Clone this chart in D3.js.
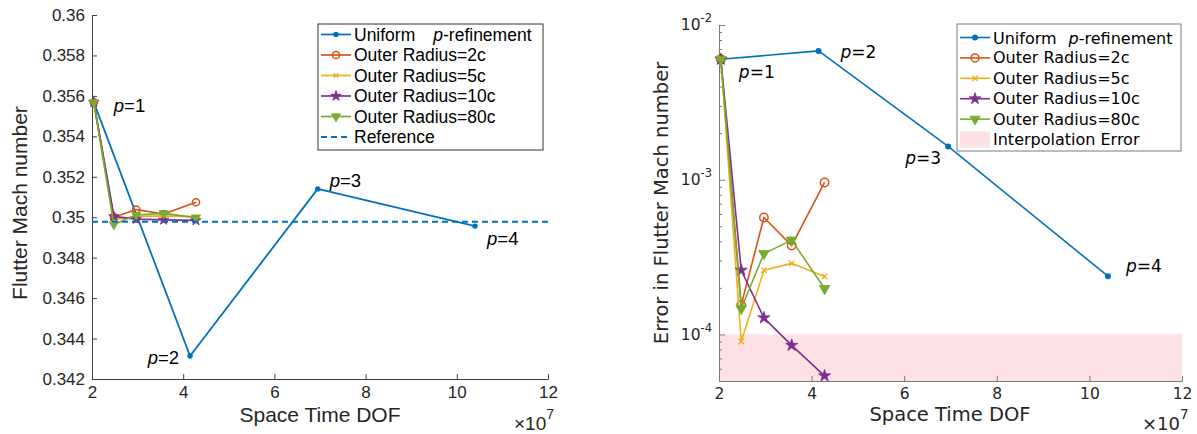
<!DOCTYPE html>
<html>
<head>
<meta charset="utf-8">
<script src="https://cdn.jsdelivr.net/npm/d3@7"></script>
<style>
  html, body { margin: 0; padding: 0; background: #ffffff; }
  svg { display: block; }
</style>
</head>
<body>
<svg id="fig" width="1197" height="434"></svg>
<script>
// ---------------- data ----------------
// Space-time degrees of freedom (x 10^7)
const dofUniform = [2.04, 4.15, 6.95, 10.4];
const dofRadius  = [2.04, 2.48, 2.97, 3.57, 4.28];

// Flutter Mach number
const machUniform = [0.35568, 0.34314, 0.35140, 0.34956];
const machR2  = [0.35568, 0.35000, 0.35038, 0.35016, 0.35074];
const machR5  = [0.35568, 0.34988, 0.35004, 0.35007, 0.35002];
const machR10 = [0.35568, 0.35004, 0.34991, 0.34987, 0.34984];
const machR80 = [0.35568, 0.34964, 0.35011, 0.35019, 0.34998];
const machReference = 0.34978;

// Error in flutter Mach number
const errUniform = [6.0e-3, 6.8e-3, 1.64e-3, 2.38e-4];
const errR2  = [6.0e-3, 1.55e-4, 5.7e-4, 3.75e-4, 9.6e-4];
const errR5  = [6.0e-3, 9.0e-5, 2.6e-4, 2.88e-4, 2.37e-4];
const errR10 = [6.0e-3, 2.6e-4, 1.28e-4, 8.5e-5, 5.4e-5];
const errR80 = [6.0e-3, 1.47e-4, 3.33e-4, 4.07e-4, 1.98e-4];
const interpolationBand = [5e-5, 1e-4];

// labels and ticks
const radiusLabels = ["Outer Radius=2c", "Outer Radius=5c", "Outer Radius=10c", "Outer Radius=80c"];
const orderLabels = ["1", "2", "3", "4"];
const dofTicks = [2, 4, 6, 8, 10, 12];
const machTicks = [0.342, 0.344, 0.346, 0.348, 0.35, 0.352, 0.354, 0.356, 0.358, 0.36];
const machTickLabels = ["0.342", "0.344", "0.346", "0.348", "0.35", "0.352", "0.354", "0.356", "0.358", "0.36"];
const errTicks = [1e-4, 1e-3, 1e-2];
const errTickExponents = ["-4", "-3", "-2"];

// ---------------- styling ----------------
const colors = ["#0072BD", "#D95319", "#EDB120", "#7E2F8E", "#77AC30"];
const markers = ["dot", "circle", "x", "star", "tri"];
const bandColor = "#fde1e4";

const svg = d3.select("#fig");

function drawMarker(g, type, color, x, y, k) {
  k = k || 1;
  if (type === "dot") {
    g.append("circle").attr("cx", x).attr("cy", y).attr("r", 3 * k).attr("fill", color);
  } else if (type === "circle") {
    g.append("circle").attr("cx", x).attr("cy", y).attr("r", 4 * k)
      .attr("fill", "none").attr("stroke", color).attr("stroke-width", 1.5);
  } else if (type === "x") {
    const s = 2.6 * k;
    g.append("path")
      .attr("d", `M${x - s},${y - s}L${x + s},${y + s}M${x - s},${y + s}L${x + s},${y - s}`)
      .attr("stroke", color).attr("stroke-width", 1.4).attr("fill", "none");
  } else if (type === "star") {
    g.append("path").attr("d", d3.symbol(d3.symbolStar, 42 * k * k)())
      .attr("transform", `translate(${x},${y})`)
      .attr("fill", color).attr("stroke", color).attr("stroke-width", 0.8);
  } else if (type === "tri") {
    g.append("path").attr("d", d3.symbol(d3.symbolTriangle, 45 * k * k)())
      .attr("transform", `translate(${x},${y}) rotate(180)`)
      .attr("fill", color).attr("stroke", color).attr("stroke-width", 0.8);
  }
}

function drawSeries(g, xs, ys, sx, sy, color, marker, k, w) {
  const pts = xs.map((d, i) => [sx(d), sy(ys[i])]);
  g.append("path").attr("d", d3.line()(pts))
    .attr("fill", "none").attr("stroke", color).attr("stroke-width", w || 1.6)
    .attr("stroke-linejoin", "round");
  pts.forEach(p => drawMarker(g, marker, color, p[0], p[1], k));
}

function pLabel(g, x, y, num, font, size, anchor) {
  const t = g.append("text").attr("x", x).attr("y", y)
    .attr("font-family", font).attr("font-size", size).attr("fill", "#000")
    .attr("text-anchor", anchor || "start").attr("dominant-baseline", "central");
  t.append("tspan").attr("font-style", "italic").text("p");
  t.append("tspan").text("=" + num);
}

function multiplier(g, x, y, font, size) {
  const t = g.append("text").attr("x", x).attr("y", y)
    .attr("font-family", font).attr("font-size", size).attr("fill", "#262626");
  t.append("tspan").text("\u00d710");
  t.append("tspan").attr("dy", -11).attr("font-size", size * 0.75).text("7");
}

// ================= left panel: flutter Mach number =================
(function () {
  const font = "Liberation Sans, Arial, sans-serif";
  const x = d3.scaleLinear().domain([2, 12]).range([92, 548]);
  const y = d3.scaleLinear().domain([0.342, 0.36]).range([379, 15]);
  const g = svg.append("g");

  // axes (ticks pointing inward)
  const ax = g.append("g").attr("transform", "translate(0,379)")
    .call(d3.axisBottom(x).tickValues(dofTicks).tickSizeInner(-5).tickSizeOuter(0).tickPadding(7)
      .tickFormat(d3.format("d")));
  const ay = g.append("g").attr("transform", "translate(92,0)")
    .call(d3.axisLeft(y).tickValues(machTicks).tickSizeInner(-5).tickSizeOuter(0).tickPadding(7)
      .tickFormat((d, i) => machTickLabels[i]));
  [ax, ay].forEach(a => {
    a.select(".domain").attr("stroke", "#404040").attr("stroke-width", 1);
    a.selectAll(".tick line").attr("stroke", "#404040");
    a.selectAll(".tick text").attr("font-family", font).attr("font-size", 17).attr("fill", "#262626");
  });

  g.append("text").attr("transform", "translate(19,203) rotate(-90)")
    .attr("text-anchor", "middle").attr("dominant-baseline", "central")
    .attr("font-family", font).attr("font-size", 21).attr("fill", "#262626")
    .text("Flutter Mach number");
  g.append("text").attr("x", 320).attr("y", 414)
    .attr("text-anchor", "middle").attr("dominant-baseline", "central")
    .attr("font-family", font).attr("font-size", 21).attr("fill", "#262626")
    .text("Space Time DOF");
  multiplier(g, 514, 430, font, 19);

  // series
  const plot = g.append("g");
  drawSeries(plot, dofUniform, machUniform, x, y, colors[0], markers[0], 0.9, 1.8);
  [machR2, machR5, machR10, machR80].forEach((vals, i) =>
    drawSeries(plot, dofRadius, vals, x, y, colors[i + 1], markers[i + 1], 0.9, 1.7));
  plot.append("line")
    .attr("x1", x(2)).attr("x2", x(12)).attr("y1", y(machReference)).attr("y2", y(machReference))
    .attr("stroke", colors[0]).attr("stroke-width", 2).attr("stroke-dasharray", "6,4");

  // polynomial order annotations
  const offs = [[20, 3, "start"], [-11, 1, "end"], [12, -9, "start"], [12, 12, "start"]];
  orderLabels.forEach((p, i) =>
    pLabel(g, x(dofUniform[i]) + offs[i][0], y(machUniform[i]) + offs[i][1], p, font, 18.5, offs[i][2]));

  // legend
  const lg = g.append("g");
  lg.append("rect").attr("x", 318).attr("y", 24).attr("width", 225).attr("height", 126)
    .attr("fill", "#fff").attr("stroke", "#333").attr("stroke-width", 1);
  const rowY = i => 34.5 + 20.5 * i;
  const entries = [{ kind: "series", i: 0 }, ...radiusLabels.map((l, i) => ({ kind: "series", i: i + 1 })), { kind: "ref" }];
  entries.forEach((e, r) => {
    const yy = rowY(r);
    if (e.kind === "series") {
      lg.append("line").attr("x1", 321).attr("x2", 351).attr("y1", yy).attr("y2", yy)
        .attr("stroke", colors[e.i]).attr("stroke-width", 1.7);
      drawMarker(lg, markers[e.i], colors[e.i], 336, yy, 0.9);
    } else {
      lg.append("line").attr("x1", 321).attr("x2", 351).attr("y1", yy).attr("y2", yy)
        .attr("stroke", colors[0]).attr("stroke-width", 2).attr("stroke-dasharray", "6,4");
    }
    const t = lg.append("text").attr("x", 354).attr("y", yy).attr("dominant-baseline", "central")
      .attr("font-family", font).attr("font-size", 17.5).attr("fill", "#000");
    if (e.kind === "ref") t.text("Reference");
    else if (e.i === 0) {
      t.append("tspan").text("Uniform");
      t.append("tspan").attr("dx", 18).attr("font-style", "italic").text("p");
      t.append("tspan").text("-refinement");
    } else t.text(radiusLabels[e.i - 1]);
  });
})();

// ================= right panel: error in flutter Mach number =================
(function () {
  const font = "DejaVu Sans, Verdana, sans-serif";
  const x = d3.scaleLinear().domain([2, 12]).range([719, 1182]);
  const y = d3.scaleLog().domain([5e-5, 1e-2]).range([381, 25]);
  const g = svg.append("g");

  // shaded region below the interpolation error level
  g.append("rect")
    .attr("x", x(2)).attr("width", x(12) - x(2))
    .attr("y", y(interpolationBand[1])).attr("height", y(interpolationBand[0]) - y(interpolationBand[1]))
    .attr("fill", bandColor);

  const minor = [];
  [1e-5, 1e-4, 1e-3].forEach(dec => { for (let k = 2; k <= 9; k++) { const v = k * dec; if (v >= 5e-5 && v <= 1e-2) minor.push(v); } });

  const ax = g.append("g").attr("transform", "translate(0,381)")
    .call(d3.axisBottom(x).tickValues(dofTicks).tickSizeInner(-5).tickSizeOuter(0).tickPadding(7)
      .tickFormat(d3.format("d")));
  const aym = g.append("g").attr("transform", "translate(719,0)")
    .call(d3.axisLeft(y).tickValues(minor).tickSizeInner(-3).tickSizeOuter(0).tickFormat(""));
  const ay = g.append("g").attr("transform", "translate(719,0)")
    .call(d3.axisLeft(y).tickValues(errTicks).tickSizeInner(-6).tickSizeOuter(0).tickPadding(7)
      .tickFormat(() => ""));
  [ax, ay, aym].forEach(a => {
    a.select(".domain").attr("stroke", "#7a7a7a").attr("stroke-width", 1);
    a.selectAll(".tick line").attr("stroke", "#7a7a7a");
    a.selectAll(".tick text").attr("font-family", font).attr("font-size", 15.5).attr("fill", "#262626");
  });
  ay.selectAll(".tick text").each(function (d, i) {
    const t = d3.select(this);
    t.append("tspan").text("10");
    t.append("tspan").attr("dy", -8).attr("font-size", 11.5).text(errTickExponents[i]);
  });

  g.append("text").attr("transform", "translate(661,203) rotate(-90)")
    .attr("text-anchor", "middle").attr("dominant-baseline", "central")
    .attr("font-family", font).attr("font-size", 19.5).attr("fill", "#262626")
    .text("Error in Flutter Mach number");
  g.append("text").attr("x", 950).attr("y", 414)
    .attr("text-anchor", "middle").attr("dominant-baseline", "central")
    .attr("font-family", font).attr("font-size", 19.5).attr("fill", "#262626")
    .text("Space Time DOF");
  multiplier(g, 1142, 430, font, 18);

  const plot = g.append("g");
  drawSeries(plot, dofUniform, errUniform, x, y, colors[0], markers[0], 1);
  [errR2, errR5, errR10, errR80].forEach((vals, i) =>
    drawSeries(plot, dofRadius, vals, x, y, colors[i + 1], markers[i + 1], 1.05));

  const offs = [[18, 13, "start"], [22, 1, "start"], [-7, 12, "end"], [18, -10, "start"]];
  orderLabels.forEach((p, i) =>
    pLabel(g, x(dofUniform[i]) + offs[i][0], y(errUniform[i]) + offs[i][1], p, font, 17, offs[i][2]));

  // legend
  const lg = g.append("g");
  lg.append("rect").attr("x", 957).attr("y", 24).attr("width", 224).attr("height", 127)
    .attr("fill", "#fff").attr("stroke", "#7a7a7a").attr("stroke-width", 1);
  const rowY = i => 37.5 + 20.4 * i;
  for (let r = 0; r < 6; r++) {
    const yy = rowY(r);
    if (r < 5) {
      lg.append("line").attr("x1", 960).attr("x2", 990).attr("y1", yy).attr("y2", yy)
        .attr("stroke", colors[r]).attr("stroke-width", 1.6);
      drawMarker(lg, markers[r], colors[r], 975, yy, 1);
    } else {
      lg.append("rect").attr("x", 960).attr("y", yy - 8).attr("width", 30).attr("height", 16).attr("fill", bandColor);
    }
    const t = lg.append("text").attr("x", 993).attr("y", yy).attr("dominant-baseline", "central")
      .attr("font-family", font).attr("font-size", 16).attr("fill", "#000");
    if (r === 0) {
      t.append("tspan").text("Uniform");
      t.append("tspan").attr("dx", 12).attr("font-style", "italic").text("p");
      t.append("tspan").text("-refinement");
    } else if (r < 5) t.text(radiusLabels[r - 1]);
    else t.text("Interpolation Error");
  }
})();
</script>
</body>
</html>
